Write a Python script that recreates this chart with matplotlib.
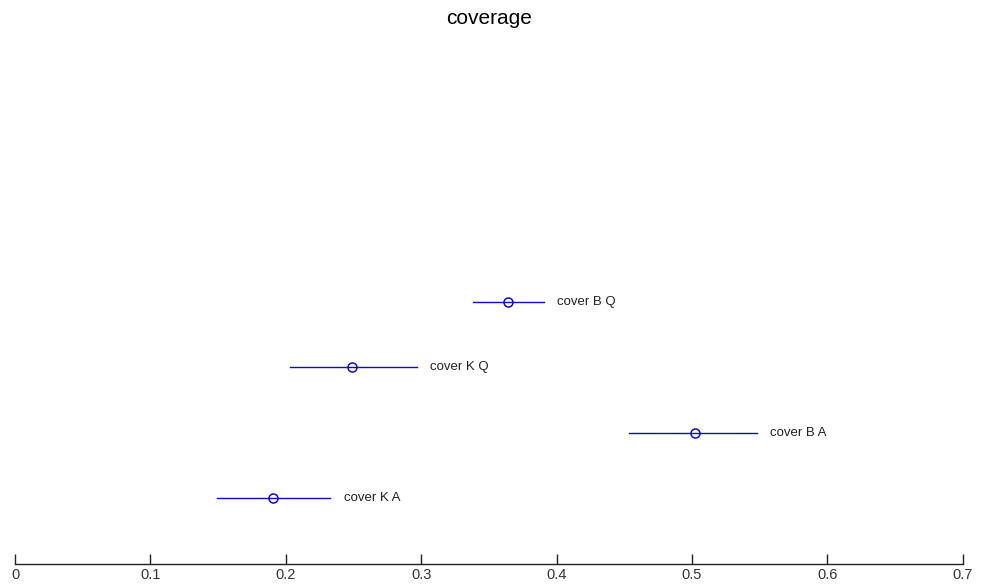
import matplotlib
matplotlib.use("Agg")
import matplotlib.pyplot as plt

labels = ["cover K A", "cover B A", "cover K Q", "cover B Q"]
centers = [0.1908, 0.5023, 0.2487, 0.3644]
lows = [0.1490, 0.4535, 0.2031, 0.3381]
highs = [0.2327, 0.5479, 0.2967, 0.3907]
ypos = [1, 2, 3, 4]
xticks = [0, 0.1, 0.2, 0.3, 0.4, 0.5, 0.6, 0.7]
xticklabels = ["0", "0.1", "0.2", "0.3", "0.4", "0.5", "0.6", "0.7"]

plt.rcParams['font.family'] = ['Liberation Sans', 'DejaVu Sans']

fig = plt.figure(figsize=(9.81, 5.88), dpi=100)
ax = fig.add_axes([15/981, 24/588, (962.7-15)/981, 525/588])

col = (0.05, 0.05, 0.75)
for y, c, lo, hi, lab in zip(ypos, centers, lows, highs, labels):
    ax.plot([lo, hi], [y, y], color=col, lw=1.0)
    ax.plot([c], [y], marker='o', mfc='none', mec=col, ms=6.5, mew=1.1)
    ax.text(hi + 0.010, y, lab, fontsize=9.5, va='center', ha='left', color='#222222')

ax.set_xlim(0, 0.7)
ax.set_ylim(0, 8)
ax.set_xticks(xticks)
ax.set_xticklabels(xticklabels, fontsize=10.5, color='#333333')
ax.set_yticks([])
for s in ['top', 'right', 'left']:
    ax.spines[s].set_visible(False)
ax.spines['bottom'].set_linewidth(1.0)
ax.spines['bottom'].set_color('#222222')
ax.tick_params(axis='x', direction='in', length=7, width=1.0, pad=3, color='#222222')

fig.text(489/981, 1 - 18/588, "coverage", fontsize=15, ha='center', va='center')

fig.savefig("out.png", dpi=100)
